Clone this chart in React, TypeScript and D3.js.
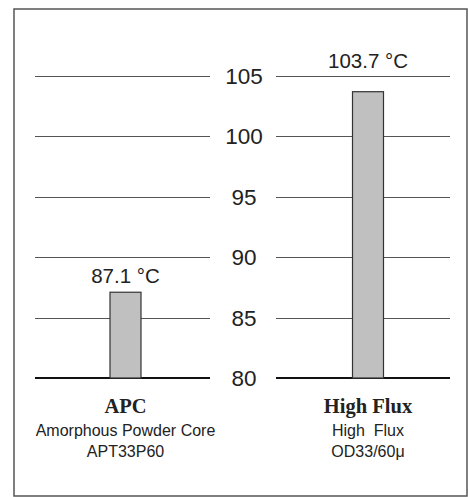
import React from 'react';
import * as d3 from 'd3';

const categories = ['APC', 'High Flux'];
const values = [87.1, 103.7];
const valueLabels = ['87.1 °C', '103.7 °C'];
const subLine1 = ['Amorphous Powder Core', 'High  Flux'];
const subLine2 = ['APT33P60', 'OD33/60μ'];
const yTicks = [80, 85, 90, 95, 100, 105];

const W = 468;
const H = 497;

export default function App() {
  const y = d3.scaleLinear().domain([80, 105]).range([378, 76]);
  const x = d3.scalePoint<string>().domain(categories).range([125.5, 368]);
  const axisX = 244;
  const leftSeg = [35, 210];
  const rightSeg = [276, 450];
  const barW = 31;
  const sans = '"Liberation Sans", Arial, sans-serif';
  const serif = '"Liberation Serif", "Times New Roman", serif';
  // snap 1px gridlines to pixel centres so they stay crisp
  const gy = (t: number) => Math.round(y(t)) + (t === 80 ? 0 : 0.5);

  return (
    <svg width={W} height={H} style={{ position: 'absolute', left: 0, top: 0, background: '#fff' }}>
      <rect x={14} y={9} width={453} height={487} fill="#fff" stroke="#555" strokeWidth={1.5} />
      {yTicks.map(t => (
        <g key={t}>
          <line x1={leftSeg[0]} x2={leftSeg[1]} y1={gy(t)} y2={gy(t)} stroke={t === 80 ? '#111' : '#555'} strokeWidth={t === 80 ? 2 : 1} />
          <line x1={rightSeg[0]} x2={rightSeg[1]} y1={gy(t)} y2={gy(t)} stroke={t === 80 ? '#111' : '#555'} strokeWidth={t === 80 ? 2 : 1} />
          <text x={axisX} y={y(t) + 8} textAnchor="middle" fontFamily={sans} fontSize={22.5} fill="#222">{t}</text>
        </g>
      ))}
      {categories.map((c, i) => {
        const cx = x(c)!;
        // labels that would collide with the top gridline sit above it
        const barTop = y(values[i]);
        const labelY = barTop - 9 < y(105) + 22 ? y(105) - 8 : barTop - 9;
        return (
          <g key={c}>
            <rect x={cx - barW / 2} y={barTop} width={barW} height={y(80) - barTop} fill="#c0c0c0" stroke="#333" strokeWidth={1.2} />
            <text x={cx} y={labelY} textAnchor="middle" fontFamily={sans} fontSize={20.5} fill="#222">{valueLabels[i]}</text>
            <text x={cx} y={413} textAnchor="middle" fontFamily={serif} fontWeight="bold" fontSize={20.5} fill="#222">{c}</text>
            <text x={cx} y={436} textAnchor="middle" fontFamily={sans} fontSize={16} fill="#222" style={{ whiteSpace: 'pre' }}>{subLine1[i]}</text>
            <text x={cx} y={457} textAnchor="middle" fontFamily={sans} fontSize={16} fill="#222">{subLine2[i]}</text>
          </g>
        );
      })}
    </svg>
  );
}
